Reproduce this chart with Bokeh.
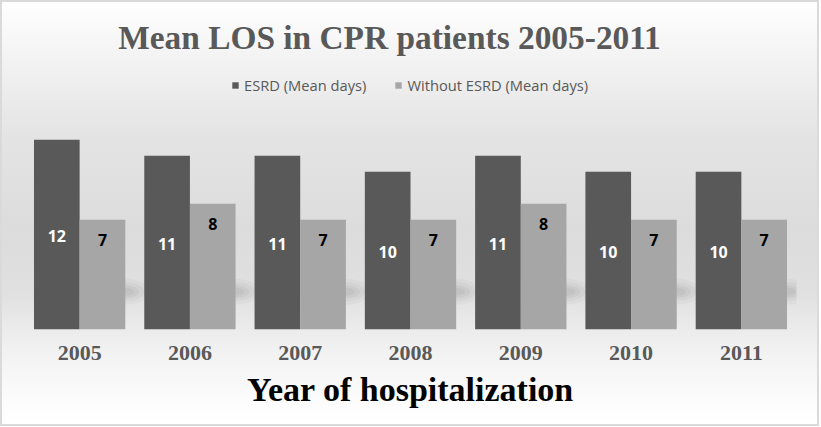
from bokeh.plotting import figure
from bokeh.models import (FactorRange, Range1d, ColumnDataSource, LabelSet, Label,
                          Legend, LegendItem)
from bokeh.core.properties import value
from bokeh.transform import dodge
from bokeh.embed import file_html
from bokeh.resources import INLINE

# ---- data ----
years = ["2005", "2006", "2007", "2008", "2009", "2010", "2011"]
esrd = [12, 11, 11, 10, 11, 10, 10]
without_esrd = [7, 8, 7, 7, 8, 7, 7]
series_names = ["ESRD (Mean days)", "Without ESRD (Mean days)"]
title_text = "Mean LOS in CPR patients 2005-2011"
x_title = "Year of hospitalization"

DARK = "#595959"
LIGHT = "#a6a6a6"
BW = 0.414

src = ColumnDataSource(dict(
    year=years,
    esrd=esrd,
    wo=without_esrd,
    esrd_lbl=[str(v) for v in esrd],
    wo_lbl=[str(v) for v in without_esrd],
    esrd_y=[v / 2 for v in esrd],
    wo_y=[v - 1.25 for v in without_esrd],
    shadow_y=[2.5] * len(years),
))

p = figure(width=819, height=426,
           x_range=FactorRange(*years), y_range=Range1d(0.14, 20.7),
           output_backend="svg", toolbar_location=None, y_axis_location=None,
           min_border_left=24, min_border_right=23,
           min_border_top=0, min_border_bottom=97)
p.x_range.range_padding = 0
p.styles = {
    "background": "linear-gradient(to bottom, #ffffff 0%, #f8f8f8 8%, #efefef 18%, "
                  "#e4e4e4 32%, #dcdcdc 54%, #e0e0e0 69%, #ebebeb 77%, #f3f3f3 84%, "
                  "#fcfcfc 94%, #ffffff 100%)",
    "box-shadow": "inset 0 0 0 2px #dadada",
}
p.background_fill_alpha = 0
p.border_fill_alpha = 0
p.outline_line_color = None
p.xgrid.grid_line_color = None
p.ygrid.grid_line_color = None

# soft shadows to the right of the light bars
for w, h, a in [(48, 26, 0.025), (38, 19, 0.03), (28, 13, 0.035), (18, 8, 0.04)]:
    p.ellipse(x=dodge("year", BW, range=p.x_range), y="shadow_y", width=w, height=h,
              width_units="screen", height_units="screen", source=src,
              fill_color="black", fill_alpha=a, line_color=None)

r1 = p.vbar(x=dodge("year", -BW / 2, range=p.x_range), top="esrd", bottom=0, width=BW,
            source=src, fill_color=DARK, line_color=None)
r2 = p.vbar(x=dodge("year", BW / 2, range=p.x_range), top="wo", bottom=0, width=BW,
            source=src, fill_color=LIGHT, line_color=None)

p.add_layout(LabelSet(x=dodge("year", -BW / 2, range=p.x_range), y="esrd_y", text="esrd_lbl",
                      source=src, text_align="center", text_baseline="middle",
                      text_font=value("Open Sans"), text_font_style="bold",
                      text_font_size="16px", text_color="white"))
p.add_layout(LabelSet(x=dodge("year", BW / 2, range=p.x_range), y="wo_y", text="wo_lbl",
                      source=src, text_align="center", text_baseline="middle",
                      text_font=value("Open Sans"), text_font_style="bold",
                      text_font_size="16px", text_color="black"))

# axis
ax = p.xaxis[0]
ax.axis_line_color = None
ax.major_tick_line_color = None
ax.minor_tick_line_color = None
ax.major_label_standoff = 10
ax.major_label_text_font = "Liberation Serif"
ax.major_label_text_font_style = "bold"
ax.major_label_text_font_size = "22px"
ax.major_label_text_color = DARK
ax.axis_label = x_title
ax.axis_label_standoff = 8
ax.axis_label_text_font = "Liberation Serif"
ax.axis_label_text_font_style = "bold"
ax.axis_label_text_font_size = "34px"
ax.axis_label_text_color = "black"

# title
p.add_layout(Label(x=365, y=292, x_units="screen", y_units="screen", text=title_text,
                   text_align="center", text_baseline="alphabetic",
                   text_font="Liberation Serif", text_font_style="bold",
                   text_font_size="33.4px", text_color=DARK))

# legend
legend = Legend(items=[LegendItem(label=series_names[0], renderers=[r1]),
                       LegendItem(label=series_names[1], renderers=[r2])],
                orientation="horizontal", location=(207, 234),
                glyph_width=8, glyph_height=8, label_height=8, label_standoff=5,
                spacing=28, padding=0, margin=0,
                border_line_color=None, background_fill_alpha=0,
                label_text_font="Open Sans", label_text_font_size="14.7px",
                label_text_color=DARK)
p.add_layout(legend, "center")

open("out.html", "w").write(file_html(p, INLINE))
